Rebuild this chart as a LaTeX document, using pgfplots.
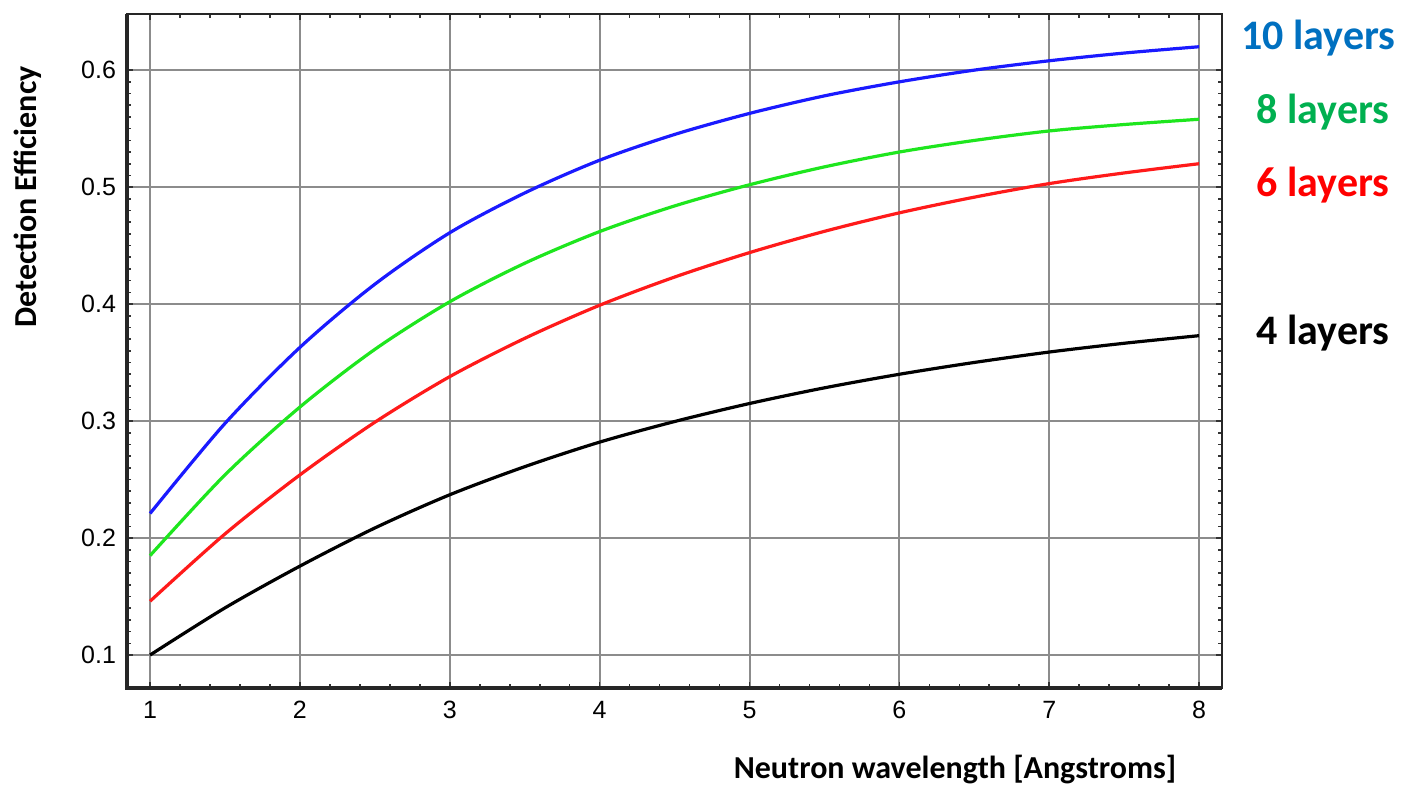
\documentclass[border=0pt]{standalone}
\usepackage{fontspec}
\setmainfont{Carlito}
\newfontfamily\arialfont{Liberation Sans}
\usepackage{pgfplots}
\pgfplotsset{compat=1.18}
\definecolor{lblblue}{HTML}{0070C0}
\definecolor{lblgreen}{HTML}{00B050}
\definecolor{lblred}{HTML}{FF0000}
\definecolor{cblue}{HTML}{1A1AFF}
\definecolor{cgreen}{HTML}{1EE61E}
\definecolor{cred}{HTML}{FF1A1A}
\begin{document}
\begin{tikzpicture}
\path[use as bounding box] (0,0) rectangle (700.5pt,393pt);
\begin{axis}[
  at={(63.5pt,49pt)}, anchor=south west,
  scale only axis, width=547.5pt, height=337pt,
  xmin=0.846, xmax=8.153, ymin=0.0718, ymax=0.648,
  xtick={1,...,8}, ytick={0.1,0.2,0.3,0.4,0.5,0.6},
  yticklabels={0.1,0.2,0.3,0.4,0.5,0.6},
  minor x tick num=4, minor y tick num=9,
  grid=major,
  major grid style={draw=black!45, line width=1pt},
  axis line style={draw=black!85, line width=1pt},
  tick align=inside, tick pos=both,
  major tick length=3pt, minor tick length=2pt,
  every tick/.style={black!80, line width=0.8pt},
  /pgf/number format/assume math mode=true,
  tick label style={font=\arialfont\fontsize{12.5}{14}\selectfont},
  xticklabel style={yshift=-3pt},
  yticklabel style={xshift=-2pt},
  clip=false,
]
\addplot[cblue, line width=1.6pt, smooth] coordinates {
(1,0.221) (1.5,0.298) (2,0.363) (2.5,0.417) (3,0.461) (3.5,0.495) (4,0.523) (4.5,0.545)
(5,0.563) (5.5,0.578) (6,0.590) (6.5,0.600) (7,0.608) (7.5,0.6146) (8,0.620)};
\addplot[cgreen, line width=1.6pt, smooth] coordinates {
(1,0.185) (1.5,0.2540) (2,0.312) (2.5,0.3613) (3,0.402) (3.5,0.4349) (4,0.462) (4.5,0.4839)
(5,0.502) (5.5,0.5173) (6,0.530) (6.5,0.5399) (7,0.548) (7.5,0.5535) (8,0.558)};
\addplot[cred, line width=1.6pt, smooth] coordinates {
(1,0.146) (1.5,0.2035) (2,0.254) (2.5,0.299) (3,0.338) (3.5,0.3707) (4,0.399) (4.5,0.4231)
(5,0.444) (5.5,0.4622) (6,0.478) (6.5,0.4914) (7,0.503) (7.5,0.5121) (8,0.520)};
\addplot[black, line width=1.6pt, smooth] coordinates {
(1,0.100) (1.5,0.1403) (2,0.176) (2.5,0.2086) (3,0.237) (3.5,0.261) (4,0.282) (4.5,0.2996)
(5,0.315) (5.5,0.3284) (6,0.340) (6.5,0.3501) (7,0.359) (7.5,0.3665) (8,0.373)};
\draw[black!85, line width=1.6pt] (rel axis cs:0,1) -- (rel axis cs:0,0) -- (rel axis cs:1,0);
\end{axis}
\node[rotate=90, font=\bfseries\fontsize{16}{18}\selectfont] at (14pt,294.5pt) {Detection Efficiency};
\node[font=\bfseries\fontsize{16}{18}\selectfont] at (477.5pt,8pt) {Neutron wavelength [Angstroms]};
\node[anchor=east, inner sep=0pt, text=lblblue, font=\bfseries\fontsize{21}{23}\selectfont] at (698pt,374pt) {10 layers};
\node[anchor=east, inner sep=0pt, text=lblgreen, font=\bfseries\fontsize{21}{23}\selectfont] at (695pt,337pt) {8 layers};
\node[anchor=east, inner sep=0pt, text=lblred, font=\bfseries\fontsize{21}{23}\selectfont] at (695pt,300.5pt) {6 layers};
\node[anchor=east, inner sep=0pt, text=black, font=\bfseries\fontsize{21}{23}\selectfont] at (695pt,226.5pt) {4 layers};
\end{tikzpicture}
\end{document}
